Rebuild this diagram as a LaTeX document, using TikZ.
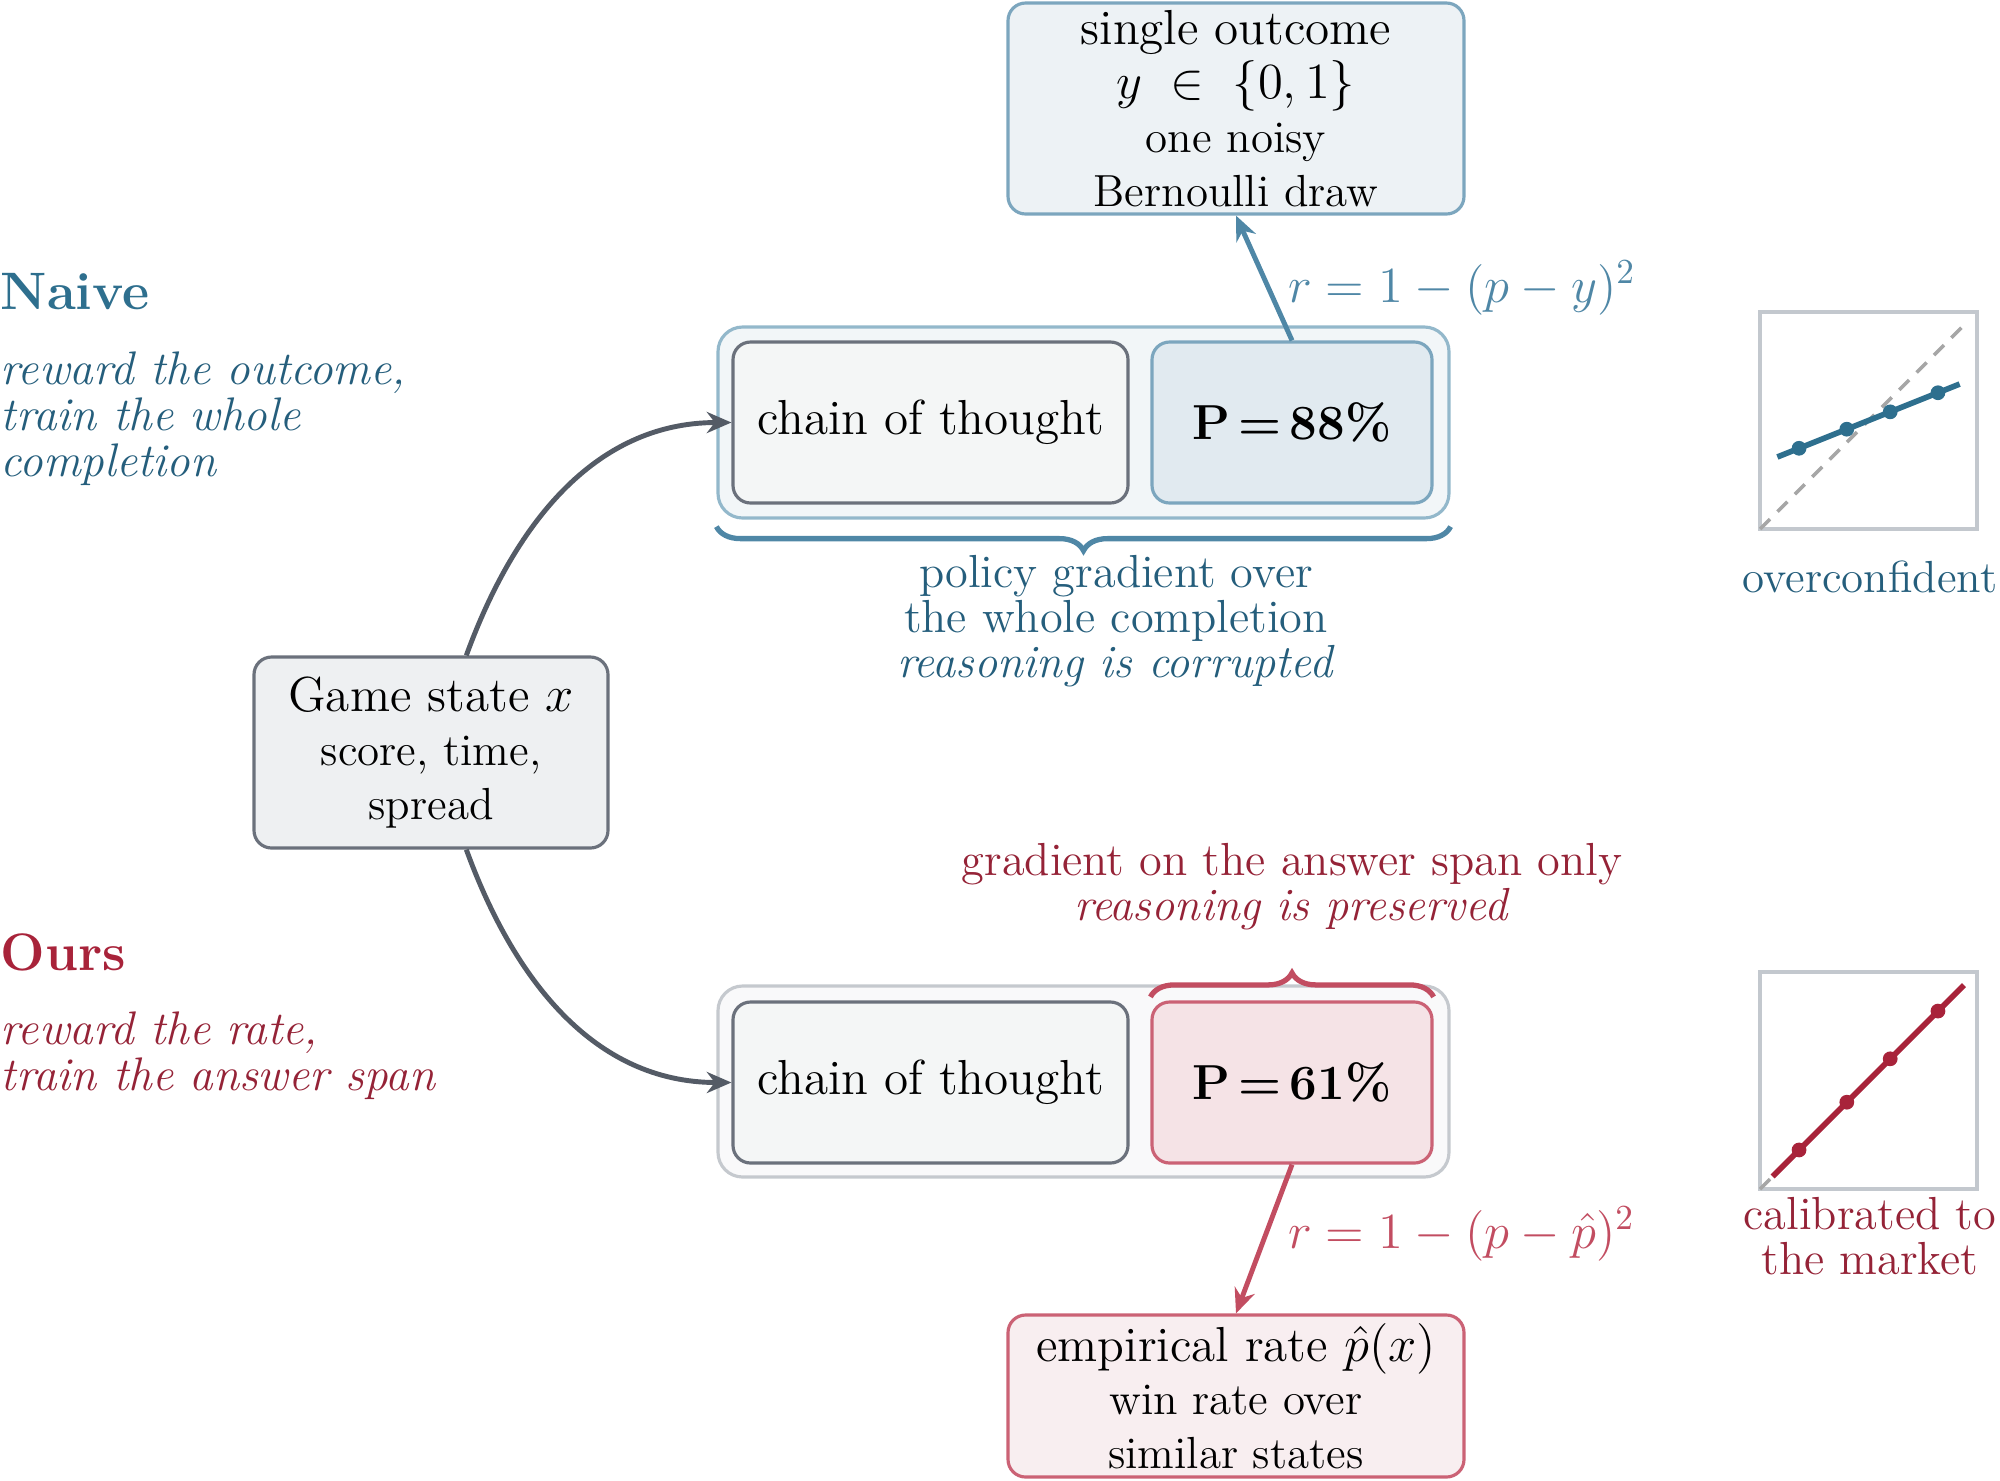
\documentclass[tikz,border=0pt]{standalone}
\usepackage{tikz}
\usetikzlibrary{positioning}
\usetikzlibrary{arrows.meta}
\usetikzlibrary{decorations.pathreplacing}
\usepackage{amssymb}
\usepackage{xcolor}

\definecolor{naiveblue}{HTML}{2E6F8E}
\definecolor{naivelight}{HTML}{4F87A6}
\definecolor{naiveedge}{HTML}{7CA6BE}
\definecolor{naivetext}{HTML}{255E7C}
\definecolor{naivefrm}{HTML}{93B8CB}
\definecolor{naivebg}{HTML}{F2F6F8}
\definecolor{probAbg}{HTML}{E1EAF0}
\definecolor{outbg}{HTML}{EDF2F5}
\definecolor{oursred}{HTML}{A8233A}
\definecolor{ourslight}{HTML}{C24D61}
\definecolor{oursedge}{HTML}{CB6275}
\definecolor{ourstext}{HTML}{952337}
\definecolor{oursfrm}{HTML}{C5C9CE}
\definecolor{oursbg}{HTML}{F9F9FA}
\definecolor{probBbg}{HTML}{F5E3E6}
\definecolor{empbg}{HTML}{F8EEF0}
\definecolor{cotline}{HTML}{6B717C}
\definecolor{cotbg}{HTML}{F4F6F6}
\definecolor{gamebg}{HTML}{EEF0F2}
\definecolor{flowgray}{HTML}{545B66}
\definecolor{plotfrm}{HTML}{C3C8CE}

\newcommand{\bigtxt}{\fontsize{14}{15.3}\selectfont}

\begin{document}
\begin{tikzpicture}[
  font=\fontsize{12.8}{15.3}\selectfont,
  pane/.style={draw, rounded corners=5pt, line width=0.9pt, align=center, inner sep=0pt},
  wrap/.style={draw, rounded corners=7pt, line width=0.9pt, inner sep=0pt},
  flow/.style={flowgray, line width=1.4pt, -{Stealth[length=7pt, width=6pt]}},
  reward/.style={line width=1.4pt, -{Stealth[length=7pt, width=6pt]}},
  rlabel/.style={midway, right=0.1cm, font=\fontsize{13.8}{15}\selectfont},
  note/.style={align=center, font=\fontsize{13.2}{12.8}\selectfont},
  side/.style={anchor=west, align=left, inner sep=0pt, font=\fontsize{13.4}{13.1}\selectfont\itshape},
  headline/.style={anchor=west, inner sep=0pt, font=\fontsize{15}{18}\selectfont\bfseries},
  plotbox/.style={plotfrm, line width=1pt},
  diag/.style={gray!70, line width=1pt, dash pattern=on 4pt off 3pt}
]
\useasboundingbox (0,0) rectangle (20,-14.8);

% left column
\node[headline, text=naiveblue] (naiveT) at (0,-2.92) {Naive};
\node[side, text=naivetext] (naiveD) at (0,-4.19) {reward the outcome,\\train the whole\\completion};
\node[headline, text=oursred] (oursT) at (0,-9.52) {Ours};
\node[side, text=ourstext] (oursD) at (0,-10.56) {reward the rate,\\train the answer span};

% input
\node[pane, draw=cotline, fill=gamebg, minimum width=3.54cm, minimum height=1.91cm] (game) at (4.31,-7.525)
  {{\bigtxt Game state $x$}\\ score, time,\\ spread};

% naive branch
\node[wrap, draw=naivefrm, fill=naivebg, minimum width=7.31cm, minimum height=1.91cm] (wrapA) at (10.835,-4.225) {};
\node[pane, draw=cotline, fill=cotbg, minimum width=3.95cm, minimum height=1.61cm] (cotA) at (9.305,-4.225)
  {\bigtxt chain of thought};
\node[pane, draw=naiveedge, fill=probAbg, minimum width=2.8cm, minimum height=1.61cm] (probA) at (12.92,-4.225)
  {\bigtxt\bfseries P\,=\,88\%};
\node[pane, draw=naiveedge, fill=outbg, minimum width=4.56cm, minimum height=2.11cm] (outcome) at (12.36,-1.085)
  {{\bigtxt single outcome}\\ {\bigtxt $y\;\in\;\{0,1\}$}\\ one noisy\\ Bernoulli draw};

\draw[reward, naivelight] (probA.north) -- (outcome.south)
  node[rlabel, yshift=-0.1cm, text=naivelight] (rwdA) {$r = 1 - (p - y)^2$};

\draw[naivelight, line width=1.5pt, decorate, decoration={brace, mirror, amplitude=0.24cm}]
  ([yshift=-2pt]wrapA.south west) -- ([yshift=-2pt]wrapA.south east);
\node[note, text=naivetext] (polA) at (11.16,-6.21)
  {policy gradient over\\the whole completion\\\textit{reasoning is corrupted}};

% ours branch
\node[wrap, draw=oursfrm, fill=oursbg, minimum width=7.31cm, minimum height=1.91cm] (wrapB) at (10.835,-10.815) {};
\node[pane, draw=cotline, fill=cotbg, minimum width=3.95cm, minimum height=1.61cm] (cotB) at (9.305,-10.825)
  {\bigtxt chain of thought};
\node[pane, draw=oursedge, fill=probBbg, minimum width=2.8cm, minimum height=1.61cm] (probB) at (12.92,-10.825)
  {\bigtxt\bfseries P\,=\,61\%};
\node[pane, draw=oursedge, fill=empbg, minimum width=4.56cm, minimum height=1.62cm] (emp) at (12.36,-13.96)
  {{\bigtxt empirical rate $\hat{p}(x)$}\\ win rate over\\ similar states};

\draw[reward, ourslight] (probB.south) -- (emp.north)
  node[rlabel, yshift=0.05cm, text=ourslight] (rwdB) {$r = 1 - (p - \hat{p})^2$};

\draw[ourslight, line width=1.5pt, decorate, decoration={brace, amplitude=0.24cm}]
  ([yshift=1pt]probB.north west) -- ([yshift=1pt]probB.north east);
\node[note, text=ourstext] (gradB) at (12.92,-8.87)
  {gradient on the answer span only\\\textit{reasoning is preserved}};

% input to both branches
\draw[flow] (game) to[out=70, in=180] (cotA);
\draw[flow] (game) to[out=-70, in=180] (cotB);

% calibration sketches
\begin{scope}[shift={(17.60,-5.29)}, x=2.17cm, y=2.17cm]
\draw[plotbox] (0,0) rectangle (1,1);
\draw[diag] (0,0) -- (0.94,0.94);
\draw[naiveblue, line width=1.6pt] (0.08,0.332) -- (0.92,0.668);
\foreach \x in {0.18,0.4,0.6,0.82}
  \fill[naiveblue] (\x,{0.3+0.4*\x}) circle [radius=0.034];
\end{scope}
\node[text=naivetext] (overc) at (18.70,-5.77) {overconfident};

\begin{scope}[shift={(17.60,-11.89)}, x=2.17cm, y=2.17cm]
\draw[plotbox] (0,0) rectangle (1,1);
\draw[diag] (0,0) -- (0.94,0.94);
\draw[oursred, line width=1.6pt] (0.058,0.058) -- (0.94,0.94);
\foreach \x in {0.18,0.4,0.6,0.82}
  \fill[oursred] (\x,\x) circle [radius=0.034];
\end{scope}
\node[note, text=ourstext] (calib) at (18.70,-12.36) {calibrated to\\the market};

\end{tikzpicture}
\end{document}
